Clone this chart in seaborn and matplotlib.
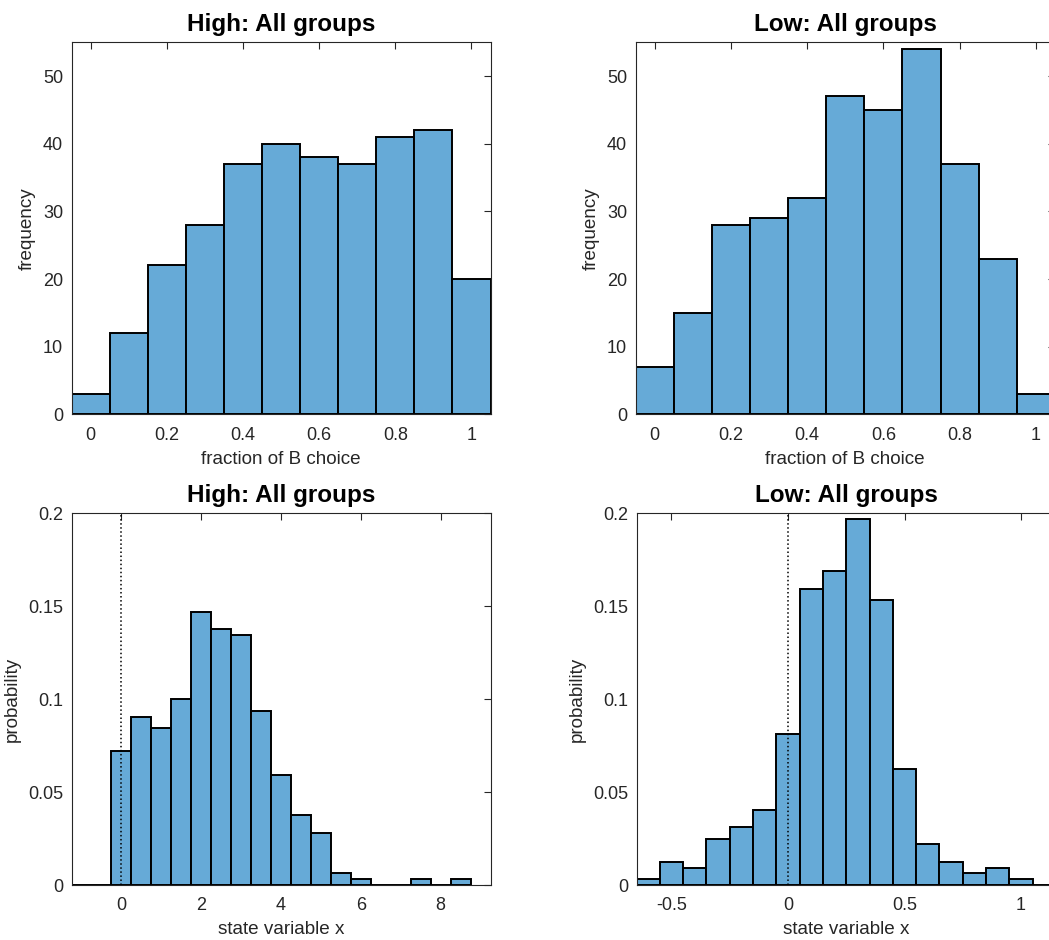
import numpy as np
import pandas as pd
import matplotlib
matplotlib.use("Agg")
import matplotlib.pyplot as plt
import seaborn as sns

# ---- data ----
frac_centers = [0.0, 0.1, 0.2, 0.3, 0.4, 0.5, 0.6, 0.7, 0.8, 0.9, 1.0]
high_frac_counts = [3, 12, 22, 28, 37, 40, 38, 37, 41, 42, 20]
low_frac_counts = [7, 15, 28, 29, 32, 47, 45, 54, 37, 23, 3]

high_x_centers = [-1.0, -0.5, 0.0, 0.5, 1.0, 1.5, 2.0, 2.5, 3.0, 3.5, 4.0, 4.5,
                  5.0, 5.5, 6.0, 6.5, 7.0, 7.5, 8.0, 8.5]
high_x_prob = [0.0, 0.0, 0.0719, 0.0906, 0.0844, 0.1000, 0.1469, 0.1375, 0.1344,
               0.0938, 0.0594, 0.0375, 0.0281, 0.0063, 0.0031, 0.0, 0.0, 0.0031,
               0.0, 0.0031]

low_x_centers = [-0.6, -0.5, -0.4, -0.3, -0.2, -0.1, 0.0, 0.1, 0.2, 0.3, 0.4,
                 0.5, 0.6, 0.7, 0.8, 0.9, 1.0, 1.1]
low_x_prob = [0.0031, 0.0125, 0.0094, 0.0250, 0.0313, 0.0406, 0.0813, 0.1594,
              0.1688, 0.1969, 0.1531, 0.0625, 0.0219, 0.0125, 0.0063, 0.0094,
              0.0031, 0.0]

titles = ["High: All groups", "Low: All groups", "High: All groups", "Low: All groups"]

# ---- style ----
sns.set_style("white")
plt.rcParams["font.family"] = ["Liberation Sans", "DejaVu Sans"]
plt.rcParams["axes.edgecolor"] = "#262626"
plt.rcParams["xtick.color"] = "#262626"
plt.rcParams["ytick.color"] = "#262626"

FACE = "#66AAD7"
W, H = 1049, 940
fig = plt.figure(figsize=(W / 100, H / 100), dpi=100)

def px_axes(left, top, right, bottom):
    return fig.add_axes([left / W, 1 - bottom / H, (right - left) / W, (bottom - top) / H])

ax_tl = px_axes(71.5, 42.3, 490.5, 414.3)
ax_tr = px_axes(635.5, 42.3, 1055.0, 414.3)
ax_bl = px_axes(71.5, 513.3, 490.5, 885.0)
ax_br = px_axes(636.5, 513.3, 1056.0, 885.0)

def hist(ax, centers, weights, width):
    df = pd.DataFrame({"x": centers, "w": weights})
    c = np.asarray(centers, dtype=float)
    edges = [float(e) for e in np.append(c - width / 2, c[-1] + width / 2)]
    sns.histplot(data=df, x="x", weights="w", bins=edges, ax=ax, color=FACE,
                 alpha=1.0, edgecolor="black", linewidth=1.4)

hist(ax_tl, frac_centers, high_frac_counts, 0.1)
hist(ax_tr, frac_centers, low_frac_counts, 0.1)
hist(ax_bl, high_x_centers, high_x_prob, 0.5)
hist(ax_br, low_x_centers, low_x_prob, 0.1)

LBL = 13.6
for ax in (ax_tl, ax_tr):
    ax.set_xlim(-0.05, 1.05)
    ax.set_ylim(0, 55)
    ax.set_xticks([0, 0.2, 0.4, 0.6, 0.8, 1])
    ax.set_xticklabels(["0", "0.2", "0.4", "0.6", "0.8", "1"])
    ax.set_yticks([0, 10, 20, 30, 40, 50])
    ax.set_xlabel("fraction of B choice", fontsize=LBL, color="#262626", labelpad=5)
    ax.set_ylabel("frequency", fontsize=LBL, color="#262626", labelpad=5)

ax_bl.set_xlim(-1.25, 9.25)
ax_bl.set_xticks([0, 2, 4, 6, 8])
ax_br.set_xlim(-0.65, 1.15)
ax_br.set_xticks([-0.5, 0, 0.5, 1])
ax_br.set_xticklabels(["-0.5", "0", "0.5", "1"])
for ax in (ax_bl, ax_br):
    ax.set_ylim(0, 0.2)
    ax.set_yticks([0, 0.05, 0.1, 0.15, 0.2])
    ax.set_yticklabels(["0", "0.05", "0.1", "0.15", "0.2"])
    ax.axvline(0, ls=":", color="black", lw=1.1, zorder=5)
    ax.set_xlabel("state variable x", fontsize=LBL, color="#262626", labelpad=5)
    ax.set_ylabel("probability", fontsize=LBL, color="#262626", labelpad=5)

for ax, t in zip((ax_tl, ax_tr, ax_bl, ax_br), titles):
    ax.set_title(t, fontsize=17.5, fontweight="bold", pad=8, color="black")
    ax.tick_params(direction="in", length=5, width=0.8, labelsize=13,
                   top=True, right=True)
    ax.tick_params(axis="x", pad=9)
    ax.tick_params(axis="y", pad=6)
    for s in ax.spines.values():
        s.set_visible(True)
        s.set_linewidth(0.8)
        s.set_color("#262626")

fig.savefig("out.png", dpi=100)
